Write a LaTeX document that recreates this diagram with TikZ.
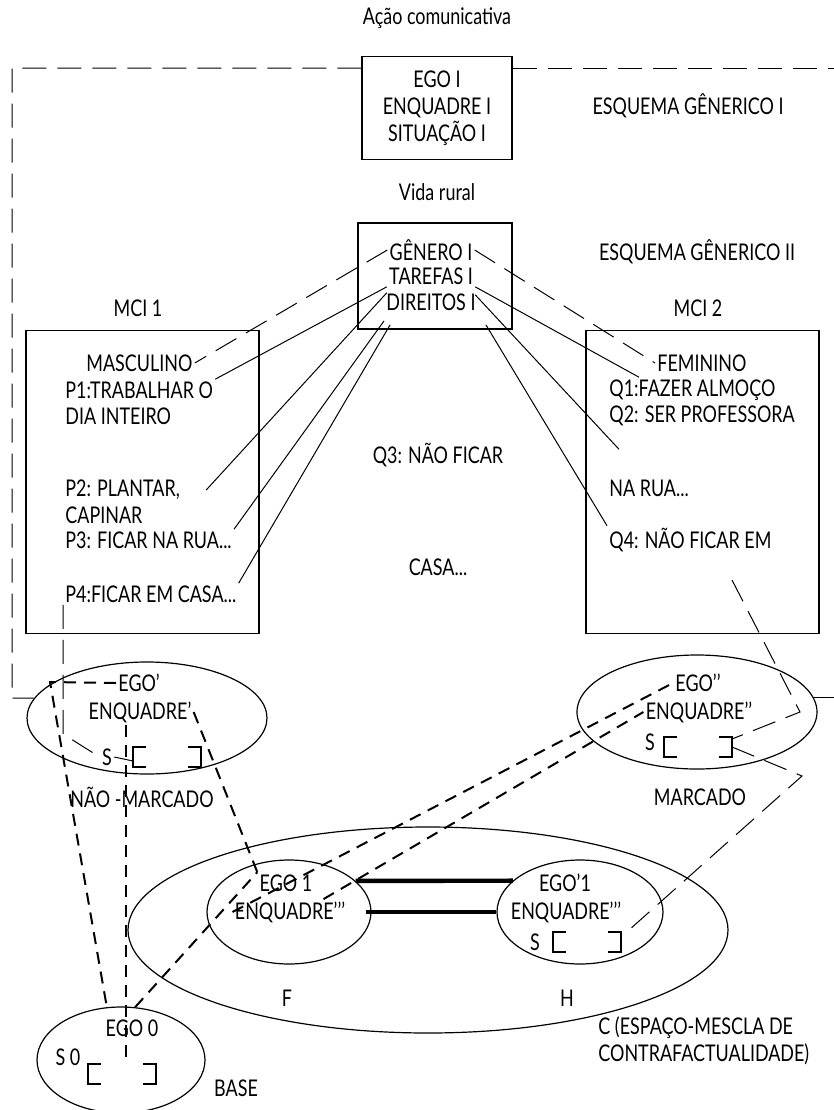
\documentclass[tikz,border=0pt]{standalone}
\usepackage{fontspec}
\setmainfont[FakeStretch=0.78]{Lato}
\usetikzlibrary{shapes.geometric}

\begin{document}
\begin{tikzpicture}[x=0.5pt, y=-0.5pt,
  font=\fontsize{11.5}{13.5}\selectfont,
  lbl/.style={inner sep=1pt},
  box/.style={draw, line width=0.6pt, inner sep=0pt},
  oval/.style={draw, ellipse, line width=0.6pt, inner sep=0pt},
  linkline/.style={line width=0.5pt},
  linkdash/.style={line width=0.5pt, dash pattern=on 12pt off 5.5pt},
  egolink/.style={line width=1pt, dash pattern=on 6pt off 4pt},
  bar/.style={line width=2.2pt},
  slot/.pic={
    \draw[line width=0.6pt] (-21,-10) -- (-34,-10) -- (-34,10) -- (-21,10);
    \draw[line width=0.6pt] (21,-10) -- (34,-10) -- (34,10) -- (21,10);
    \coordinate (-l) at (-34,0);
    \coordinate (-r) at (34,0);
  }]
  \useasboundingbox (0,0) rectangle (834,1110);

  % generic spaces
  \node[lbl] (acao) at (437,18) {Ação comunicativa};
  \node[box, minimum width=75pt, minimum height=51.5pt, align=center] (egoI) at (437,108)
    {EGO I\\ENQUADRE I\\SITUAÇÃO I};
  \node[lbl] (esqI) at (688,106) {ESQUEMA GÊNERICO I};
  \node[lbl] (vida) at (437,192) {Vida rural};
  \node[box, minimum width=77pt, minimum height=53pt] (generico) at (435,276) {};
  \node[lbl] (genero) at (431,250) {GÊNERO I};
  \node[lbl] (tarefas) at (431,276) {TAREFAS I};
  \node[lbl] (direitos) at (431,302) {DIREITOS I};
  \node[lbl] (esqII) at (697,252) {ESQUEMA GÊNERICO II};

  % input spaces
  \node[lbl] (mciUmT) at (138,308) {MCI 1};
  \node[lbl] (mciDoisT) at (698,308) {MCI 2};
  \node[box, minimum width=116.5pt, minimum height=151.5pt] (mciUm) at (142.5,482) {};
  \node[box, minimum width=116.5pt, minimum height=151.5pt] (mciDois) at (702.5,482) {};

  \node[lbl, anchor=west] (masc) at (84,363) {MASCULINO};
  \node[lbl, anchor=west] (pUm) at (63,390) {P1:TRABALHAR O};
  \node[lbl, anchor=west] (dia) at (63,416) {DIA INTEIRO};
  \node[lbl, anchor=west] (pDois) at (63,490) {P2: PLANTAR,};
  \node[lbl, anchor=west] (capinar) at (63,515) {CAPINAR};
  \node[lbl, anchor=west] (pTres) at (63,540) {P3: FICAR NA RUA...};
  \node[lbl, anchor=west] (pQuatro) at (63,594) {P4:FICAR EM CASA...};

  \node[lbl, anchor=west] (fem) at (655,363) {FEMININO};
  \node[lbl, anchor=west] (qUm) at (607,390) {Q1:FAZER ALMOÇO};
  \node[lbl, anchor=west] (qDois) at (607,416) {Q2: SER PROFESSORA};
  \node[lbl, anchor=west] (narua) at (607,488) {NA RUA...};
  \node[lbl, anchor=west] (qQuatro) at (607,540) {Q4: NÃO FICAR EM};

  \node[lbl] (qTres) at (438,455) {Q3: NÃO FICAR};
  \node[lbl] (casa) at (438,567) {CASA...};

  \draw[linkdash] (genero.west) -- (masc.east);
  \draw[linkdash] (genero.east) -- (fem.west);
  \draw[linkline] (tarefas.south west) -- (pUm.north east);
  \draw[linkline] ([yshift=-3pt]tarefas.south west) -- ([xshift=12pt]pDois.east);
  \draw[linkline] ([yshift=-4pt]direitos.south west) -- (pTres.north east);
  \draw[linkline] ([xshift=3pt, yshift=-6pt]direitos.south west) -- (pQuatro.north east);
  \draw[linkline] (tarefas.south east) -- ([xshift=16pt]qUm.north west);
  \draw[linkline] ([yshift=-4pt]tarefas.south east) -- ([xshift=6pt, yshift=14pt]narua.north west);
  \draw[linkline] ([xshift=4pt, yshift=-6pt]direitos.south east) -- (qQuatro.north west);

  % marked / unmarked spaces
  \node[oval, minimum width=120pt, minimum height=56pt] (egoA) at (147,718) {};
  \node[lbl, anchor=west] (egoAt) at (116,683) {EGO’};
  \node[lbl] (enqA) at (140,712) {ENQUADRE’};
  \node[lbl] (sA) at (107,757) {S};
  \pic (slotA) at (167,757) {slot};
  \node[lbl] (naoMarc) at (142,797) {NÃO -MARCADO};

  \node[oval, minimum width=120pt, minimum height=57pt] (egoB) at (697,712) {};
  \node[lbl, anchor=west] (egoBt) at (673,683) {EGO’’};
  \node[lbl] (enqB) at (699,712) {ENQUADRE’’};
  \node[lbl] (sB) at (650,742) {S};
  \pic (slotB) at (698,747) {slot};
  \node[lbl] (marc) at (700,797) {MARCADO};

  % blend
  \node[oval, minimum width=300pt, minimum height=103pt] (mescla) at (428,930) {};
  \node[oval, minimum width=82pt, minimum height=52pt] (egoUm) at (289,912) {};
  \node[oval, minimum width=83pt, minimum height=52pt] (egoUmL) at (580,912) {};
  \node[lbl] (egoUmT) at (286,883) {EGO 1};
  \node[lbl] (enqC) at (290,912) {ENQUADRE’’’};
  \node[lbl] (egoUmLT) at (565,883) {EGO’1};
  \node[lbl] (enqD) at (566,912) {ENQUADRE’’’};
  \node[lbl] (sD) at (535,942) {S};
  \pic (slotD) at (587,942) {slot};
  \node[lbl] (fLbl) at (287,998) {F};
  \node[lbl] (hLbl) at (567,998) {H};
  \node[lbl, align=left, anchor=west] (cLbl) at (596,1041)
    {C (ESPAÇO-MESCLA DE\\CONTRAFACTUALIDADE)};

  % base
  \node[oval, minimum width=84pt, minimum height=53pt] (base) at (121,1060) {};
  \node[lbl] (egoZero) at (132,1028) {EGO 0};
  \node[lbl] (sZero) at (68,1057) {S 0};
  \pic (slotZ) at (122,1074) {slot};
  \node[lbl] (baseLbl) at (236,1088) {BASE};

  % frame of the generic space
  \coordinate (frameNW) at (12,68);
  \coordinate (frameSW) at (12,698);
  \coordinate (frameSE) at (834,698);
  \draw[linkdash] (egoI.west |- frameNW) -- (frameNW) -- (frameSW) -- (egoA.170);
  \draw[linkdash] (egoI.east |- frameNW) -- (834,68);
  \draw[linkline] (egoB.7) -- (egoB.7 -| frameSE);

  \coordinate (kinkS) at (63,734);
  \draw[linkdash] (pQuatro.south west) -- (kinkS) -- (sA.west);
  \draw[linkline] (sA.east) -- ([yshift=-2pt]slotA-l);

  \coordinate (kinkE) at (50,682);
  \draw[egolink] (egoAt.west) -- (kinkE) -- (base.105);
  \draw[egolink] ([xshift=-7pt]enqA.south) -- ([xshift=-7pt]enqA.south |- base.center);
  \draw[egolink] (enqA.east) -- (egoUmT.north west);
  \draw[egolink] (base.75) -- (egoUmT.north west);
  \draw[egolink] (enqC.west) -- (egoBt.west);
  \draw[egolink] ([xshift=-12pt]enqC.north east) -- (enqB.west);

  \coordinate (qEnd) at (732,580);
  \coordinate (kinkR1) at (800,712);
  \coordinate (kinkR2) at (802,776);
  \draw[linkdash] (qEnd) -- (kinkR1) -- ([yshift=4pt]slotB-r);
  \draw[linkdash] (slotB-r) -- (kinkR2) -- ([xshift=4pt, yshift=6pt]slotD-r);

  \draw[bar] (egoUm.25) -- (egoUmL.155);
  \draw[bar] ([xshift=-3pt]egoUm.east) -- (egoUmL.west);
\end{tikzpicture}
\end{document}
